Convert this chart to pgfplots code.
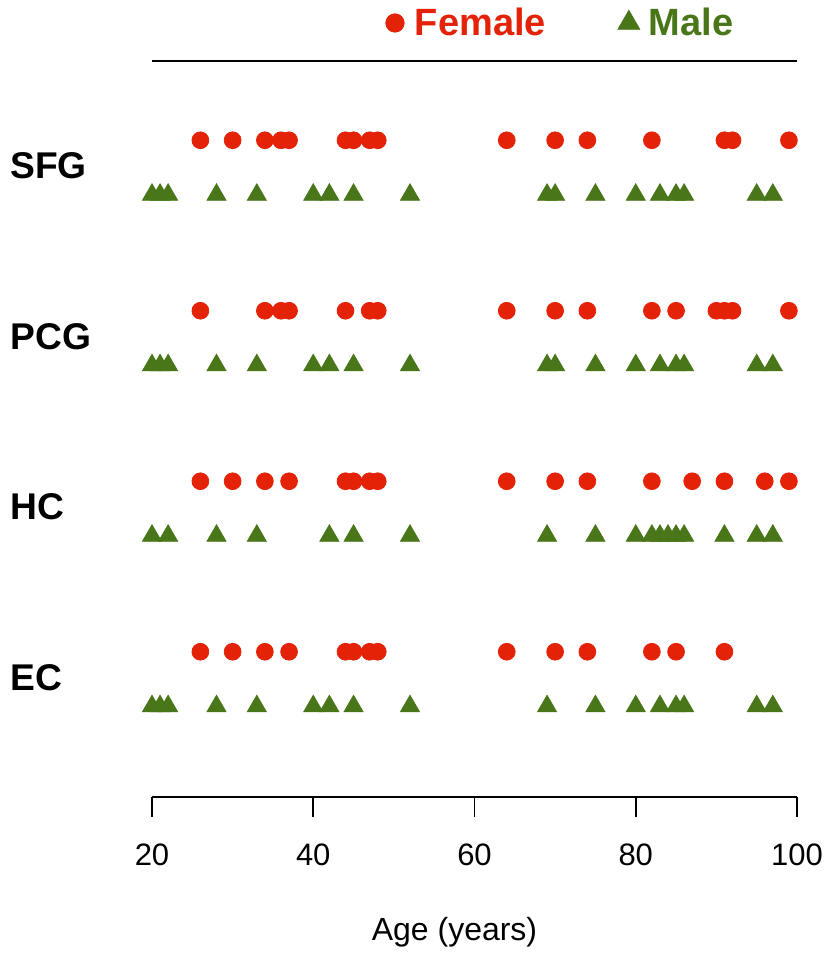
\documentclass[border=0pt]{standalone}
\usepackage{fontspec}
\setmainfont{Liberation Sans}
\usepackage{pgfplots}
\pgfplotsset{compat=1.18}
\definecolor{fred}{RGB}{227,34,8}
\definecolor{mgreen}{RGB}{72,118,24}

\begin{document}
\begin{tikzpicture}
\begin{axis}[
  scale only axis, width=322.5pt, height=368pt,
  xmin=20, xmax=100, ymin=0.308, ymax=4.625,
  axis x line=box, axis y line=none,
  xtick={20,40,60,80,100}, xtick pos=bottom, ytick=\empty,
  tick align=outside, major tick length=10pt,
  every tick/.style={black, line width=0.9pt},
  axis line style={line width=0.9pt},
  /pgf/number format/assume math mode=true,
  xticklabel style={font=\fontsize{15.5}{17}\selectfont, yshift=-10pt},
  xlabel={Age (years)},
  xlabel style={at={(axis description cs:0.5,0)}, anchor=center, xshift=-10pt, yshift=-67.5pt, font=\fontsize{16}{18}\selectfont},
  clip=false,
  legend columns=2,
  legend image code/.code={\draw[#1] plot coordinates {(0cm,0cm)}; \path[draw=none, fill=none] (-4pt,0pt) (8pt,0pt);},
  legend style={at={([yshift=19pt]rel axis cs:0.635,1)}, anchor=center, draw=none, fill=none,
    font=\bfseries\fontsize{19}{21}\selectfont,
    /tikz/every even column/.append style={column sep=34pt}},
]
% SFG
\addplot[only marks, mark=*, mark size=4.2pt, color=fred, legend image post style={mark size=4.6pt}] table[y expr=4.16] {
x
26
30
34
36
37
44
45
47
48
64
70
74
82
91
92
99
};
\addlegendentry{\textcolor{fred}{Female}}
\addplot[only marks, mark=triangle*, mark size=5.5pt, color=mgreen, legend image post style={mark size=6.3pt}] table[y expr=3.84] {
x
20
21
22
28
33
40
42
45
52
69
70
75
80
83
85
86
95
97
};
\addlegendentry{\textcolor{mgreen}{Male}}
% PCG
\addplot[only marks, mark=*, mark size=4.2pt, color=fred, forget plot] table[y expr=3.16] {
x
26
34
36
37
44
47
48
64
70
74
82
85
90
91
92
99
};
\addplot[only marks, mark=triangle*, mark size=5.5pt, color=mgreen, forget plot] table[y expr=2.84] {
x
20
21
22
28
33
40
42
45
52
69
70
75
80
83
85
86
95
97
};
% HC
\addplot[only marks, mark=*, mark size=4.2pt, color=fred, forget plot] table[y expr=2.16] {
x
26
30
34
37
44
45
47
48
64
70
74
82
87
91
96
99
};
\addplot[only marks, mark=triangle*, mark size=5.5pt, color=mgreen, forget plot] table[y expr=1.84] {
x
20
22
28
33
42
45
52
69
75
80
82
83
84
85
86
91
95
97
};
% EC
\addplot[only marks, mark=*, mark size=4.2pt, color=fred, forget plot] table[y expr=1.16] {
x
26
30
34
37
44
45
47
48
64
70
74
82
85
91
};
\addplot[only marks, mark=triangle*, mark size=5.5pt, color=mgreen, forget plot] table[y expr=0.84] {
x
20
21
22
28
33
40
42
45
52
69
75
80
83
85
86
95
97
};
\node[anchor=west, inner sep=0pt, font=\bfseries\fontsize{18.6}{20}\selectfont] at ([xshift=-71pt]axis cs:20,4.01) {SFG};
\node[anchor=west, inner sep=0pt, font=\bfseries\fontsize{18.6}{20}\selectfont] at ([xshift=-71pt]axis cs:20,3.01) {PCG};
\node[anchor=west, inner sep=0pt, font=\bfseries\fontsize{18.6}{20}\selectfont] at ([xshift=-71pt]axis cs:20,2.01) {HC};
\node[anchor=west, inner sep=0pt, font=\bfseries\fontsize{18.6}{20}\selectfont] at ([xshift=-71pt]axis cs:20,1.01) {EC};
\coordinate (bbll) at ([xshift=-76pt, yshift=-78pt]rel axis cs:0,0);
\coordinate (bbur) at ([xshift=15.5pt, yshift=30.5pt]rel axis cs:1,1);
\end{axis}
\pgfresetboundingbox
\path (bbll) rectangle (bbur);
\end{tikzpicture}
\end{document}
